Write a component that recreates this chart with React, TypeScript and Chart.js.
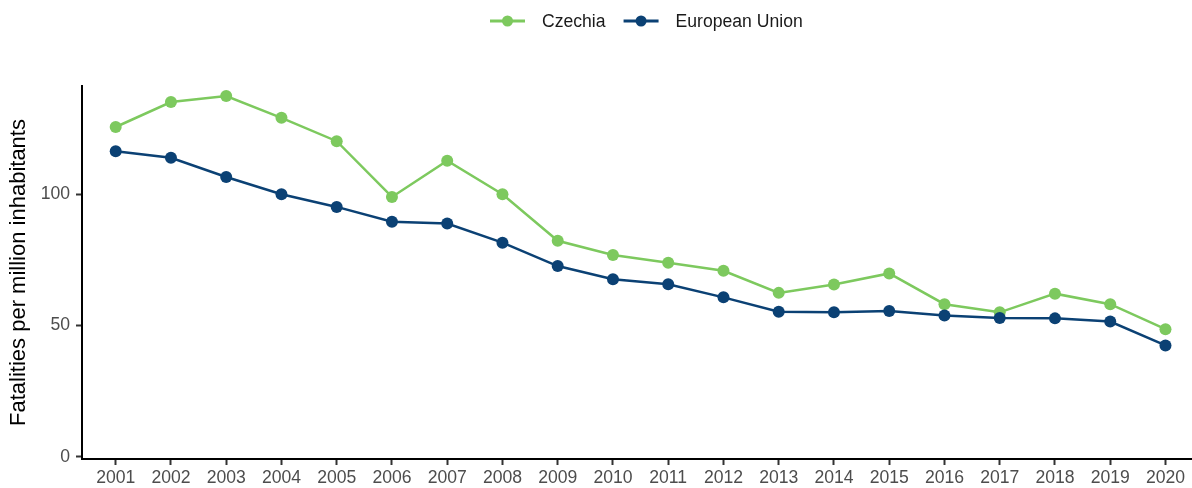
import React, { useEffect, useRef } from "react";
import { Chart, registerables } from "chart.js";

Chart.register(...registerables);

const years = [2001, 2002, 2003, 2004, 2005, 2006, 2007, 2008, 2009, 2010, 2011, 2012, 2013, 2014, 2015, 2016, 2017, 2018, 2019, 2020];
const czechia = [125.5, 135.0, 137.3, 129.0, 120.1, 98.9, 112.7, 99.9, 82.2, 76.8, 73.9, 70.8, 62.4, 65.6, 69.8, 58.1, 55.0, 62.1, 58.1, 48.6];
const europeanUnion = [116.3, 113.8, 106.5, 99.9, 95.1, 89.5, 88.8, 81.5, 72.6, 67.6, 65.7, 60.7, 55.2, 55.0, 55.5, 53.8, 52.8, 52.7, 51.5, 42.4];
const yTicks = [0, 50, 100];
const seriesNames = ["Czechia", "European Union"];
const yTitle = "Fatalities per million inhabitants";

const GREEN = "#7DC95E";
const BLUE = "#0B4174";
const FONT = "'Liberation Sans', Arial, Helvetica, sans-serif";

const legendPlugin = {
  id: "lineLegend",
  afterDraw(chart: any) {
    const ctx = chart.ctx;
    const items = [
      { label: seriesNames[0], color: GREEN },
      { label: seriesNames[1], color: BLUE },
    ];
    ctx.save();
    ctx.font = `17.6px ${FONT}`;
    let x = 490;
    const y = 21;
    for (const it of items) {
      ctx.strokeStyle = it.color;
      ctx.lineWidth = 3;
      ctx.beginPath();
      ctx.moveTo(x, y);
      ctx.lineTo(x + 35, y);
      ctx.stroke();
      ctx.fillStyle = it.color;
      ctx.beginPath();
      ctx.arc(x + 17.5, y, 5.5, 0, Math.PI * 2);
      ctx.fill();
      ctx.fillStyle = "#1a1a1a";
      ctx.textBaseline = "middle";
      ctx.textAlign = "left";
      ctx.fillText(it.label, x + 52, y + 1);
      const w = ctx.measureText(it.label).width;
      x += 52 + w + 18;
    }
    ctx.restore();
  },
};

export default function App() {
  const ref = useRef<HTMLCanvasElement>(null);
  useEffect(() => {
    document.body.style.margin = "0";
    const chart = new Chart(ref.current!, {
      type: "line",
      data: {
        datasets: [
          {
            label: seriesNames[0],
            data: years.map((y, i) => ({ x: y, y: czechia[i] })),
            borderColor: GREEN,
            backgroundColor: GREEN,
            pointBackgroundColor: GREEN,
            pointBorderColor: GREEN,
            borderWidth: 2.5,
            pointRadius: 6,
            pointBorderWidth: 0,
            tension: 0,
            order: 1,
          },
          {
            label: seriesNames[1],
            data: years.map((y, i) => ({ x: y, y: europeanUnion[i] })),
            borderColor: BLUE,
            backgroundColor: BLUE,
            pointBackgroundColor: BLUE,
            pointBorderColor: BLUE,
            borderWidth: 2.5,
            pointRadius: 6,
            pointBorderWidth: 0,
            tension: 0,
            order: 0,
          },
        ],
      },
      options: {
        responsive: false,
        animation: false,
        layout: { autoPadding: false, padding: { top: 86, left: 0, right: 0, bottom: 0 } },
        plugins: {
          legend: { display: false },
          tooltip: { enabled: false },
        },
        scales: {
          x: {
            type: "linear",
            min: 2000.39,
            max: 2020.48,
            afterBuildTicks: (scale: any) => {
              scale.ticks = years.map((v) => ({ value: v }));
            },
            afterFit: (scale: any) => {
              scale.height = 29;
              scale.paddingLeft = 0;
              scale.paddingRight = 0;
            },
            ticks: {
              autoSkip: false,
              maxRotation: 0,
              minRotation: 0,
              padding: 3,
              color: "#4d4d4d",
              font: { family: FONT, size: 17.6 },
              callback: (v: any) => String(v),
            },
            grid: {
              display: true,
              drawOnChartArea: false,
              drawTicks: true,
              tickLength: 6,
              tickColor: "#333333",
              tickWidth: 2,
            },
            border: { display: true, color: "#000000", width: 2 },
          },
          y: {
            type: "linear",
            min: -0.8,
            max: 141.1,
            afterBuildTicks: (scale: any) => {
              scale.ticks = yTicks.map((v) => ({ value: v }));
            },
            afterFit: (scale: any) => {
              scale.width = 82;
              scale.paddingTop = 0;
              scale.paddingBottom = 0;
            },
            ticks: {
              padding: 6,
              color: "#4d4d4d",
              font: { family: FONT, size: 17.6 },
              callback: (v: any) => String(v),
            },
            grid: {
              display: true,
              drawOnChartArea: false,
              drawTicks: true,
              tickLength: 6,
              tickColor: "#333333",
              tickWidth: 2,
            },
            border: { display: true, color: "#000000", width: 2 },
            title: {
              display: true,
              text: yTitle,
              color: "#000000",
              font: { family: FONT, size: 22 },
              padding: { top: 6, bottom: 0 },
            },
          },
        },
      },
      plugins: [legendPlugin],
    } as any);
    return () => chart.destroy();
  }, []);
  return <canvas ref={ref} width={1192} height={488} style={{ display: "block" }} />;
}
